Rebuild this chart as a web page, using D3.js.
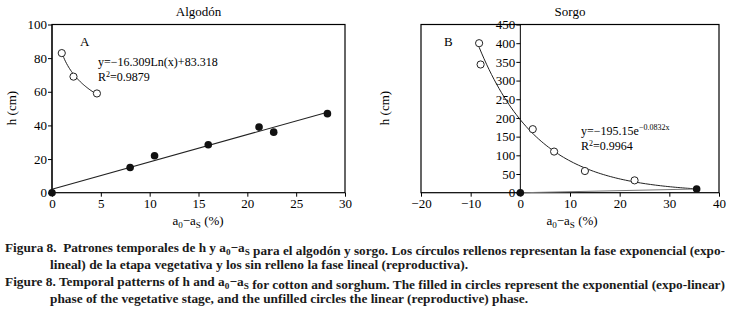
<!DOCTYPE html>
<html>
<head>
<meta charset="utf-8">
<script src="https://cdn.jsdelivr.net/npm/d3@7"></script>
<style>
  body { margin: 0; background: #fff; }
  svg { display: block; }
  .axis path, .axis line { stroke: #000; }
</style>
</head>
<body>
<script>
// panel A, algodon
var cottonOpenX = [1.0, 2.2, 4.6];
var cottonOpenY = [83, 69, 59];
var cottonFillX = [0, 8, 10.5, 16, 21.2, 22.7, 28.2];
var cottonFillY = [0, 15, 22, 28.5, 39, 36, 47];
var cottonTicksX = [0, 5, 10, 15, 20, 25, 30];
var cottonTicksY = [0, 20, 40, 60, 80, 100];
var cottonFit = [-16.309, 83.318];

// panel B, sorgo
var sorghumOpenX = [-8.3, -8, 2.5, 6.8, 13, 23];
var sorghumOpenY = [400, 343, 170, 110, 58, 33];
var sorghumFillX = [0, 35.5];
var sorghumFillY = [0, 10];
var sorghumTicksX = [-20, -10, 0, 10, 20, 30, 40];
var sorghumTicksY = [0, 50, 100, 150, 200, 250, 300, 350, 400, 450];
var sorghumFit = [195.15, -0.0832];

var WIDTH = 732;
var HEIGHT = 313;
var TOP = 24.5;
var BOTTOM = 192.7;
var FONT = '"Liberation Serif", "DejaVu Serif", serif';

var translate = function (x, y) {
  return "translate(" + x + "," + y + ")";
};

var zip = function (xs, ys) {
  return xs.map(function (x, i) { return [x, ys[i]]; });
};

var svg = d3.select('body').append('svg')
  .attr('width', WIDTH)
  .attr('height', HEIGHT)
  .attr('font-family', FONT);

// writes a0-aS with subscripts into a text node
var addSubLabel = function (t, size) {
  t.append('tspan').text('a');
  t.append('tspan').text('0').attr('font-size', size * 0.7).attr('dy', 3);
  t.append('tspan').text('\u2212a').attr('dy', -3);
  t.append('tspan').text('S').attr('font-size', size * 0.7).attr('dy', 3);
  return t;
};

var drawPanel = function (opt) {
  var g = svg.append('g');
  var x = opt.x, y = opt.y;

  g.append('rect')
    .attr('x', x.range()[0]).attr('y', TOP)
    .attr('width', x.range()[1] - x.range()[0])
    .attr('height', BOTTOM - TOP)
    .attr('fill', 'none').attr('stroke', '#000').attr('stroke-width', 1.2);

  var xAxis = d3.axisBottom(x).tickValues(opt.ticksX).tickSize(4).tickPadding(2)
    .tickSizeOuter(0);
  g.append('g').attr('class', 'axis')
    .attr('transform', translate(0, BOTTOM))
    .call(xAxis)
    .attr('font-family', FONT).attr('font-size', 13)
    .call(function (s) { s.select('.domain').remove(); });

  var yAxis = d3.axisLeft(y).tickValues(opt.ticksY).tickSize(4).tickPadding(1)
    .tickSizeOuter(0);
  g.append('g').attr('class', 'axis')
    .attr('transform', translate(opt.yAt, 0))
    .call(yAxis)
    .attr('font-family', FONT).attr('font-size', 13)
    .call(function (s) { s.select('.domain').attr('d', 'M0,' + TOP + 'V' + BOTTOM); });

  g.append('text')
    .attr('x', (x.range()[0] + x.range()[1]) / 2).attr('y', 16)
    .attr('text-anchor', 'middle').attr('font-size', 13)
    .text(opt.title);

  g.append('text')
    .attr('transform', translate(opt.yLabelX, 108) + ' rotate(-90)')
    .attr('text-anchor', 'middle').attr('font-size', 13)
    .text('h (cm)');

  var xl = g.append('text')
    .attr('x', opt.xLabelX).attr('y', 225)
    .attr('text-anchor', 'middle').attr('font-size', 13);
  addSubLabel(xl, 13);
  xl.append('tspan').text(' (%)').attr('dy', -3);

  g.append('text')
    .attr('x', opt.letterX).attr('y', 46)
    .attr('font-size', 13)
    .text(opt.letter);

  // fitted curves
  var line = d3.line()
    .x(function (d) { return x(d[0]); })
    .y(function (d) { return y(d[1]); });

  g.append('path')
    .attr('d', line(opt.curve))
    .attr('fill', 'none').attr('stroke', '#222').attr('stroke-width', 1);

  g.append('path')
    .attr('d', line(opt.trend))
    .attr('fill', 'none').attr('stroke', opt.trendColor).attr('stroke-width', 1.1);

  g.selectAll('circle.open')
    .data(opt.open)
    .enter().append('circle')
    .attr('class', 'open')
    .attr('cx', function (d) { return x(d[0]); })
    .attr('cy', function (d) { return y(d[1]); })
    .attr('r', 3.6)
    .attr('fill', '#fff').attr('stroke', '#222').attr('stroke-width', 1);

  g.selectAll('circle.fill')
    .data(opt.filled)
    .enter().append('circle')
    .attr('class', 'fill')
    .attr('cx', function (d) { return x(d[0]); })
    .attr('cy', function (d) { return y(d[1]); })
    .attr('r', 3.8)
    .attr('fill', '#111');

  return g;
};

// panel A
var xA = d3.scaleLinear().domain([0, 30]).range([52, 345]);
var yA = d3.scaleLinear().domain([0, 100]).range([BOTTOM, TOP]);

// least squares line through the filled points
var mx = d3.mean(cottonFillX), my = d3.mean(cottonFillY);
var sxy = d3.sum(cottonFillX, function (v, i) { return (v - mx) * (cottonFillY[i] - my); });
var sxx = d3.sum(cottonFillX, function (v) { return (v - mx) * (v - mx); });
var slope = sxy / sxx, icpt = my - slope * mx;

var curveA = d3.range(cottonOpenX[0], cottonOpenX[2] + 0.01, 0.1).map(function (v) {
  return [v, cottonFit[0] * Math.log(v) + cottonFit[1]];
});

var gA = drawPanel({
  x: xA, y: yA, yAt: 52,
  ticksX: cottonTicksX, ticksY: cottonTicksY,
  title: 'Algodón', letter: 'A', letterX: 80,
  yLabelX: 16, xLabelX: 198,
  curve: curveA,
  trend: [[0, icpt], [d3.max(cottonFillX), icpt + slope * d3.max(cottonFillX)]],
  trendColor: '#222',
  open: zip(cottonOpenX, cottonOpenY),
  filled: zip(cottonFillX, cottonFillY)
});

gA.append('text').attr('x', 98).attr('y', 66).attr('font-size', 12)
  .text('y=\u221216.309Ln(x)+83.318');
var r2a = gA.append('text').attr('x', 98).attr('y', 81).attr('font-size', 12);
r2a.append('tspan').text('R');
r2a.append('tspan').text('2').attr('font-size', 8).attr('dy', -4);
r2a.append('tspan').text('=0.9879').attr('dy', 4);

// panel B
var xB = d3.scaleLinear().domain([-20, 40]).range([421, 719]);
var yB = d3.scaleLinear().domain([0, 450]).range([BOTTOM, TOP]);

var curveB = d3.range(sorghumOpenX[0], sorghumFillX[1] + 0.01, 0.5).map(function (v) {
  return [v, sorghumFit[0] * Math.exp(sorghumFit[1] * v)];
});

var gB = drawPanel({
  x: xB, y: yB, yAt: xB(0),
  ticksX: sorghumTicksX, ticksY: sorghumTicksY,
  title: 'Sorgo', letter: 'B', letterX: 444,
  yLabelX: 389, xLabelX: 572,
  curve: curveB,
  trend: zip(sorghumFillX, sorghumFillY),
  trendColor: '#777',
  open: zip(sorghumOpenX, sorghumOpenY),
  filled: zip(sorghumFillX, sorghumFillY)
});

var eqB = gB.append('text').attr('x', 581).attr('y', 135).attr('font-size', 12);
eqB.append('tspan').text('y=\u2212195.15e');
eqB.append('tspan').text('\u22120.0832x').attr('font-size', 8).attr('dy', -5);
var r2b = gB.append('text').attr('x', 581).attr('y', 150).attr('font-size', 12);
r2b.append('tspan').text('R');
r2b.append('tspan').text('2').attr('font-size', 8).attr('dy', -4);
r2b.append('tspan').text('=0.9964').attr('dy', 4);

// caption
var capLines = [
  { x: 5, y: 252, w: 720, parts: ['Figura 8.  Patrones temporales de h y ', 'SUB', ' para el algodón y sorgo. Los círculos rellenos representan la fase exponencial (expo-'] },
  { x: 50, y: 269, w: 418, parts: ['lineal) de la etapa vegetativa y los sin relleno la fase lineal (reproductiva).'] },
  { x: 5, y: 286, w: 720, parts: ['Figure 8. Temporal patterns of h and ', 'SUB', ' for cotton and sorghum. The filled in circles represent the exponential (expo-linear)'] },
  { x: 50, y: 303, w: 478, parts: ['phase of the vegetative stage, and the unfilled circles the linear (reproductive) phase.'] }
];

capLines.forEach(function (c) {
  var t = svg.append('text')
    .attr('x', c.x).attr('y', c.y)
    .attr('font-size', 13).attr('font-weight', 'bold')
    .attr('fill', '#1a1a1a')
    .attr('textLength', c.w).attr('lengthAdjust', 'spacingAndGlyphs')
    .attr('xml:space', 'preserve');
  c.parts.forEach(function (p) {
    if (p === 'SUB') {
      t.append('tspan').text('a');
      t.append('tspan').text('0').attr('font-size', 9).attr('dy', 3);
      t.append('tspan').text('\u2212a').attr('dy', -3);
      t.append('tspan').text('S').attr('font-size', 9).attr('dy', 3);
      t.append('tspan').text('').attr('dy', -3);
    } else {
      t.append('tspan').text(p);
    }
  });
});
</script>
</body>
</html>
